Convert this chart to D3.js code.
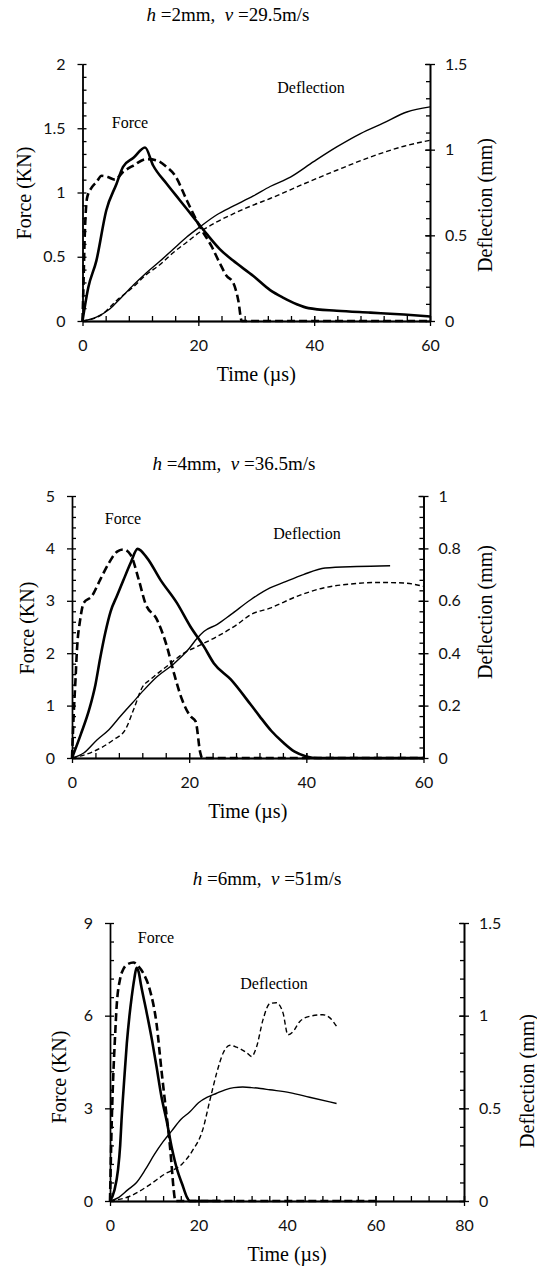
<!DOCTYPE html>
<html><head><meta charset="utf-8">
<script src="https://cdn.jsdelivr.net/npm/d3@7"></script>
<style>
html,body{margin:0;padding:0;background:#fff;}
svg text{white-space:pre;}
</style>
</head><body>
<svg id="chart" width="537" height="1266"></svg>
<script>
// ---------- DATA (time in µs, force in KN, deflection in mm) ----------
// Panel 1: h=2mm, v=29.5m/s
const p1ForceSolid = [[0,0],[1,0.26],[2.4,0.47],[4.1,0.86],[5.9,1.07],[7,1.2],[8.8,1.27],[10.8,1.35],[12.2,1.21],[14.5,1.07],[16.8,0.94],[19.1,0.81],[21.4,0.68],[23.7,0.56],[26,0.47],[29.5,0.35],[32.4,0.24],[34.7,0.18],[37,0.13],[39,0.1],[43.9,0.08],[49.7,0.065],[55.5,0.05],[60,0.035]];
const p1ForceDashed = [[0,0],[0.1,0.16],[0.4,0.68],[0.8,0.96],[1.6,1.04],[2.4,1.08],[3.3,1.13],[4.4,1.12],[5.6,1.1],[7,1.16],[8.8,1.21],[11,1.26],[12.8,1.25],[14.5,1.2],[16,1.13],[18,0.94],[20.3,0.73],[22.3,0.58],[23.7,0.45],[24.9,0.35],[26,0.3],[26.9,0.16],[27.5,0],[60,0]];
const p1DeflSolid = [[0,0],[2.4,0.023],[4.7,0.07],[6.5,0.13],[8.8,0.21],[11,0.28],[13.4,0.35],[15.7,0.42],[18,0.49],[20.3,0.55],[23.2,0.62],[26,0.67],[29.5,0.73],[32.4,0.785],[35.9,0.84],[39.9,0.93],[43.9,1.016],[48,1.094],[52,1.156],[56,1.22],[60,1.25]];
const p1DeflDashed = [[0,0],[3,0.03],[5.9,0.12],[8.8,0.2],[11,0.27],[13.4,0.33],[15.7,0.4],[18,0.46],[20.3,0.52],[23,0.575],[26,0.625],[29,0.67],[32.4,0.715],[38.2,0.8],[43.9,0.88],[49.7,0.957],[55.5,1.02],[60,1.055]];

// Panel 2: h=4mm, v=36.5m/s
const p2ForceSolid = [[0,0],[1.5,0.45],[3,0.95],[4,1.4],[4.8,1.9],[5.7,2.4],[6.6,2.8],[7.7,3.1],[8.8,3.4],[10,3.72],[11.2,3.99],[12.8,3.82],[15.1,3.4],[17.9,2.96],[20.2,2.51],[22.5,2.13],[24.2,1.81],[27.1,1.5],[30.5,1.02],[32,0.8],[34,0.52],[36,0.3],[38,0.12],[40,0.03],[42,0],[60,0]];
const p2ForceDashed = [[0,0],[0.3,0.86],[0.6,1.5],[0.85,2.07],[1.4,2.64],[2,2.96],[3.4,3.09],[4.8,3.4],[6.3,3.72],[7.7,3.94],[8.8,3.98],[10,3.88],[11.4,3.4],[12.5,2.96],[14.5,2.64],[16.2,2.13],[17.4,1.62],[18.8,1.11],[20.2,0.8],[21.1,0.7],[21.9,0.1],[22.2,0],[60,0]];
const p2DeflSolid = [[0,0],[2,0.019],[4.3,0.07],[6.3,0.108],[8.3,0.16],[10.3,0.21],[12.3,0.26],[14.5,0.31],[17.4,0.36],[19.7,0.41],[21.4,0.458],[22.5,0.483],[24.8,0.51],[27.1,0.547],[30.5,0.604],[33.8,0.649],[36.1,0.67],[39.5,0.7],[43.2,0.725],[48.6,0.731],[54.3,0.734]];
const p2DeflDashed = [[0,0],[3.7,0.025],[7.1,0.07],[9.1,0.108],[10.5,0.184],[12,0.27],[13.4,0.3],[16.2,0.35],[19.1,0.4],[21.4,0.426],[24.8,0.464],[28.2,0.51],[30.5,0.547],[33.8,0.572],[38.4,0.617],[42.9,0.649],[47.5,0.664],[52,0.67],[56.6,0.668],[60,0.655]];

// Panel 3: h=6mm, v=51m/s
const p3ForceSolid = [[0,0],[1,0.35],[1.8,1.0],[2.3,1.8],[2.6,2.6],[3.2,3.9],[3.8,5.1],[4.4,6.0],[4.9,6.6],[5.5,7.2],[6,7.55],[6.5,7.4],[7,7.0],[8.3,6.09],[9.5,5.2],[10.5,4.36],[11.6,3.4],[12.8,2.6],[14,1.7],[15.2,1.0],[16.3,0.55],[17.4,0.12],[18,0],[25,0]];
const p3ForceDashed = [[0,0],[0.4,2.6],[0.75,4.1],[1.1,5.2],[1.5,6.3],[2.3,7.2],[3,7.5],[3.8,7.65],[5.3,7.72],[6.4,7.6],[7.5,7.38],[9,6.84],[10.5,5.76],[11.7,4.14],[12.6,3.0],[13.4,2.0],[13.9,1.2],[14.3,0.5],[14.8,0],[60,0]];
const p3DeflSolid = [[0,0],[2,0.02],[4,0.06],[6,0.1],[8,0.17],[10,0.25],[12,0.32],[14,0.38],[16,0.44],[18,0.48],[20,0.53],[22,0.56],[24,0.58],[26,0.6],[28,0.612],[30,0.615],[32,0.612],[34,0.607],[36.1,0.6],[40.6,0.585],[45.1,0.56],[51.2,0.526]];
const p3DeflDashed = [[0,0],[4.6,0.027],[8.5,0.08],[12.4,0.146],[16.3,0.2],[18.6,0.27],[20.9,0.38],[22.6,0.546],[24.1,0.69],[25.6,0.8],[27.1,0.84],[28.6,0.83],[30.9,0.8],[32,0.78],[33.1,0.83],[34.6,0.98],[36.1,1.065],[37.6,1.07],[39.1,1.015],[40.2,0.897],[41.4,0.915],[42.9,0.969],[45.1,0.996],[48.1,1.005],[49.7,0.988],[51.2,0.942]];

// Tick values
const p1TimeTicks = [0,20,40,60];
const p1ForceTicks = [0,0.5,1,1.5,2];
const p1DeflTicks = [0,0.5,1,1.5];
const p2TimeTicks = [0,20,40,60];
const p2ForceTicks = [0,1,2,3,4,5];
const p2DeflTicks = [0,0.2,0.4,0.6,0.8,1];
const p3TimeTicks = [0,20,40,60,80];
const p3ForceTicks = [0,3,6,9];
const p3DeflTicks = [0,0.5,1,1.5];

// Titles
const p1Title = {h:"2mm", v:"29.5m/s"};
const p2Title = {h:"4mm", v:"36.5m/s"};
const p3Title = {h:"6mm", v:"51m/s"};

// ---------- LAYOUT ----------
const panels = [
  {title:p1Title, titleX:228, titleY:21,
   xDom:[0,60], xR:[82.5,430], fDom:[0,2], dDom:[0,1.5], yR:[321,64],
   xTicks:p1TimeTicks, xMinor:4, fTicks:p1ForceTicks, fMinor:0.1, dTicks:p1DeflTicks, dMinor:0.1,
   fs:p1ForceSolid, fd:p1ForceDashed, ds:p1DeflSolid, dd:p1DeflDashed,
   forceLbl:[130,128], deflLbl:[311,93],
   fTitle:[24,193], dTitle:[485,205]},
  {title:p2Title, titleX:234, titleY:470,
   xDom:[0,60], xR:[72,423.5], fDom:[0,5], dDom:[0,1], yR:[758,496],
   xTicks:p2TimeTicks, xMinor:4, fTicks:p2ForceTicks, fMinor:0.2, dTicks:p2DeflTicks, dMinor:0.04,
   fs:p2ForceSolid, fd:p2ForceDashed, ds:p2DeflSolid, dd:p2DeflDashed,
   forceLbl:[123,524], deflLbl:[307,539],
   fTitle:[27,628], dTitle:[485,612]},
  {title:p3Title, titleX:267, titleY:885,
   xDom:[0,80], xR:[110,464], fDom:[0,9], dDom:[0,1.5], yR:[1201,923],
   xTicks:p3TimeTicks, xMinor:4, fTicks:p3ForceTicks, fMinor:0.6, dTicks:p3DeflTicks, dMinor:0.1,
   fs:p3ForceSolid, fd:p3ForceDashed, ds:p3DeflSolid, dd:p3DeflDashed,
   forceLbl:[156,943], deflLbl:[274,989],
   fTitle:[59,1077], dTitle:[527,1081]}
];

const svg = d3.select("#chart");
svg.append("rect").attr("width",537).attr("height",1266).attr("fill","#fff");

const tickFont = "Lato, 'Open Sans', sans-serif";
const serif = "'Liberation Serif', 'Times New Roman', serif";
const fmt = d3.format("~g");

function range(a,b,step){const out=[];const n=Math.round((b-a)/step);for(let i=0;i<=n;i++)out.push(+(a+i*step).toFixed(6));return out;}

function styleAxis(g){
  g.selectAll("path.domain").attr("stroke","#000").attr("stroke-width",1.4);
  g.selectAll(".tick line").attr("stroke","#000").attr("stroke-width",1.3);
  g.selectAll(".tick text").attr("font-family",tickFont).attr("font-size",16).attr("fill","#111");
}

panels.forEach((p)=>{
  const x = d3.scaleLinear().domain(p.xDom).range(p.xR);
  const yF = d3.scaleLinear().domain(p.fDom).range(p.yR);
  const yD = d3.scaleLinear().domain(p.dDom).range(p.yR);
  const g = svg.append("g");

  // title
  const t = g.append("text").attr("x",p.titleX).attr("y",p.titleY).attr("text-anchor","middle")
    .attr("font-family",serif).attr("font-size",19).attr("fill","#000");
  t.append("tspan").attr("font-style","italic").text("h");
  t.append("tspan").text(" =" + p.title.h + ",  ");
  t.append("tspan").attr("font-style","italic").text("v");
  t.append("tspan").text(" =" + p.title.v);

  // x axis: major ticks crossing, minor inside (up)
  const xMinorVals = range(p.xDom[0],p.xDom[1],p.xMinor);
  g.append("g").attr("transform",`translate(0,${p.yR[0]})`)
    .call(d3.axisTop(x).tickValues(xMinorVals).tickSize(5).tickSizeOuter(0).tickFormat(""))
    .call(styleAxis);
  g.append("g").attr("transform",`translate(0,${p.yR[0]})`)
    .call(d3.axisBottom(x).tickValues(p.xTicks).tickSize(5).tickSizeOuter(0).tickPadding(14).tickFormat(d3.format("d")))
    .call(styleAxis);
  g.append("g").attr("transform",`translate(0,${p.yR[0]})`)
    .call(d3.axisTop(x).tickValues(p.xTicks).tickSize(5).tickSizeOuter(0).tickFormat(""))
    .call(styleAxis);

  // left axis (force)
  const fMinorVals = range(p.fDom[0],p.fDom[1],p.fMinor);
  g.append("g").attr("transform",`translate(${p.xR[0]},0)`)
    .call(d3.axisRight(yF).tickValues(fMinorVals).tickSize(4).tickSizeOuter(0).tickFormat(""))
    .call(styleAxis);
  g.append("g").attr("transform",`translate(${p.xR[0]},0)`)
    .call(d3.axisLeft(yF).tickValues(p.fTicks).tickSize(5).tickSizeOuter(0).tickPadding(12).tickFormat(fmt))
    .call(styleAxis);

  // right axis (deflection)
  const dMinorVals = range(p.dDom[0],p.dDom[1],p.dMinor);
  g.append("g").attr("transform",`translate(${p.xR[1]},0)`)
    .call(d3.axisLeft(yD).tickValues(dMinorVals).tickSize(4).tickSizeOuter(0).tickFormat(""))
    .call(styleAxis);
  g.append("g").attr("transform",`translate(${p.xR[1]},0)`)
    .call(d3.axisRight(yD).tickValues(p.dTicks).tickSize(5).tickSizeOuter(0).tickPadding(10).tickFormat(fmt))
    .call(styleAxis);
  g.append("g").attr("transform",`translate(${p.xR[1]},0)`)
    .call(d3.axisLeft(yD).tickValues(p.dTicks).tickSize(5).tickSizeOuter(0).tickFormat(""))
    .call(styleAxis);

  // lines
  const lineF = d3.line().x(d=>x(d[0])).y(d=>yF(d[1])).curve(d3.curveMonotoneX);
  const lineD = d3.line().x(d=>x(d[0])).y(d=>yD(d[1])).curve(d3.curveMonotoneX);
  g.append("path").datum(p.ds).attr("d",lineD).attr("fill","none").attr("stroke","#000").attr("stroke-width",1.4);
  g.append("path").datum(p.dd).attr("d",lineD).attr("fill","none").attr("stroke","#000").attr("stroke-width",1.4).attr("stroke-dasharray","5,3");
  g.append("path").datum(p.fs).attr("d",lineF).attr("fill","none").attr("stroke","#000").attr("stroke-width",2.6).attr("stroke-linejoin","round");
  g.append("path").datum(p.fd).attr("d",lineF).attr("fill","none").attr("stroke","#000").attr("stroke-width",2.6).attr("stroke-dasharray","8,4");

  // annotations
  g.append("text").attr("x",p.forceLbl[0]).attr("y",p.forceLbl[1]).attr("text-anchor","middle")
    .attr("font-family",serif).attr("font-size",16).text("Force");
  g.append("text").attr("x",p.deflLbl[0]).attr("y",p.deflLbl[1]).attr("text-anchor","middle")
    .attr("font-family",serif).attr("font-size",16).text("Deflection");

  // axis titles
  g.append("text").attr("transform",`translate(${p.fTitle[0]},${p.fTitle[1]}) rotate(-90)`)
    .attr("text-anchor","middle").attr("dominant-baseline","central")
    .attr("font-family",serif).attr("font-size",20).text("Force (KN)");
  g.append("text").attr("transform",`translate(${p.dTitle[0]},${p.dTitle[1]}) rotate(-90)`)
    .attr("text-anchor","middle").attr("dominant-baseline","central")
    .attr("font-family",serif).attr("font-size",20).text("Deflection (mm)");
  g.append("text").attr("x",(p.xR[0]+p.xR[1])/2).attr("y",p.yR[0]+60).attr("text-anchor","middle")
    .attr("font-family",serif).attr("font-size",20).text("Time (\u00b5s)");
});
</script>
</body></html>
